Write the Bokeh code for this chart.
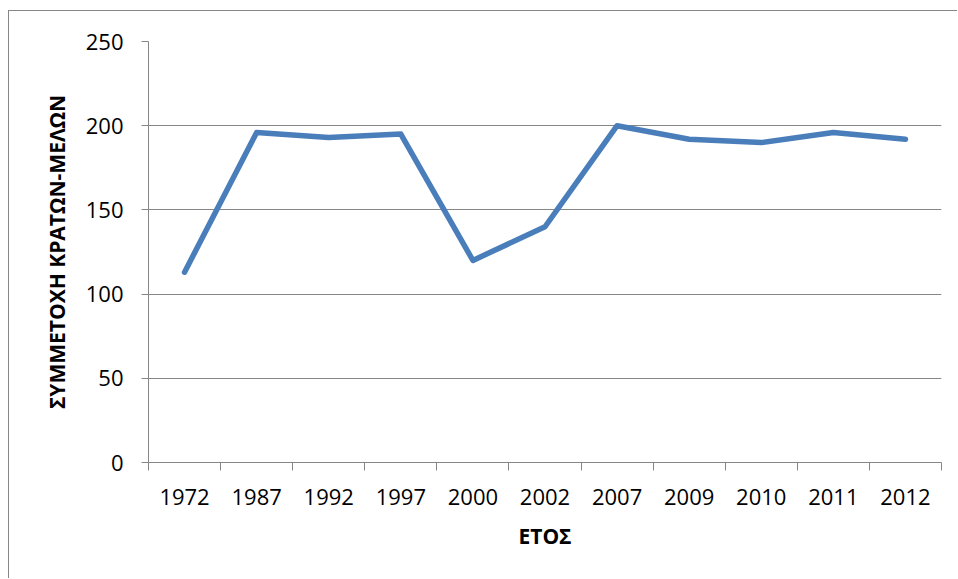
from bokeh.plotting import figure
from bokeh.models import Range1d, FixedTicker, CustomJSTickFormatter
from bokeh.embed import file_html
from bokeh.resources import INLINE

years = ["1972", "1987", "1992", "1997", "2000", "2002", "2007", "2009", "2010", "2011", "2012"]
participation = [113, 196, 193, 195, 120, 140, 200, 192, 190, 196, 192]
y_ticks = [0, 50, 100, 150, 200, 250]

GRAY = "#868686"
FONT = "Open Sans"

xs = [i + 0.5 for i in range(len(years))]

p = figure(width=949, height=568, output_backend="svg", toolbar_location=None,
           x_range=Range1d(0, len(years)), y_range=Range1d(0, 250),
           min_border_left=139, min_border_right=17, min_border_top=30, min_border_bottom=117)
p.margin = (10, 0, 0, 8)
p.styles = {"border-top": "1px solid " + GRAY, "border-left": "1px solid " + GRAY}
p.outline_line_color = None
p.background_fill_color = "white"
p.border_fill_color = "white"

p.line(xs, participation, line_width=5.5, line_color="#4A7EBB", line_join="round", line_cap="round")

p.xgrid.visible = False
p.ygrid.grid_line_color = GRAY
p.ygrid.grid_line_width = 1

p.yaxis.ticker = FixedTicker(ticks=y_ticks)
p.yaxis.axis_line_color = GRAY
p.yaxis.major_tick_line_color = GRAY
p.yaxis.major_tick_in = 0
p.yaxis.major_tick_out = 7
p.yaxis.minor_tick_line_color = None
p.yaxis.major_label_text_font = FONT
p.yaxis.major_label_text_font_size = "22px"
p.yaxis.major_label_text_color = "black"
p.yaxis.major_label_standoff = 18
p.yaxis.axis_label = "ΣΥΜΜΕΤΟΧΗ ΚΡΑΤΩΝ-ΜΕΛΩΝ"
p.yaxis.axis_label_text_font = FONT
p.yaxis.axis_label_text_font_style = "bold"
p.yaxis.axis_label_text_font_size = "21px"
p.yaxis.axis_label_text_color = "black"
p.yaxis.axis_label_standoff = 12

p.xaxis.ticker = FixedTicker(ticks=xs, minor_ticks=list(range(len(years) + 1)))
p.xaxis.formatter = CustomJSTickFormatter(args=dict(labels=years),
                                          code="return labels[Math.floor(tick)];")
p.xaxis.axis_line_color = GRAY
p.xaxis.major_tick_line_color = None
p.xaxis.major_tick_in = 0
p.xaxis.major_tick_out = 0
p.xaxis.minor_tick_line_color = GRAY
p.xaxis.minor_tick_in = 0
p.xaxis.minor_tick_out = 8
p.xaxis.major_label_text_font = FONT
p.xaxis.major_label_text_font_size = "22px"
p.xaxis.major_label_text_color = "black"
p.xaxis.major_label_standoff = 18
p.xaxis.axis_label = "ΕΤΟΣ"
p.xaxis.axis_label_text_font = FONT
p.xaxis.axis_label_text_font_style = "bold"
p.xaxis.axis_label_text_font_size = "21px"
p.xaxis.axis_label_text_color = "black"
p.xaxis.axis_label_standoff = 14

open("out.html", "w").write(file_html(p, INLINE))
